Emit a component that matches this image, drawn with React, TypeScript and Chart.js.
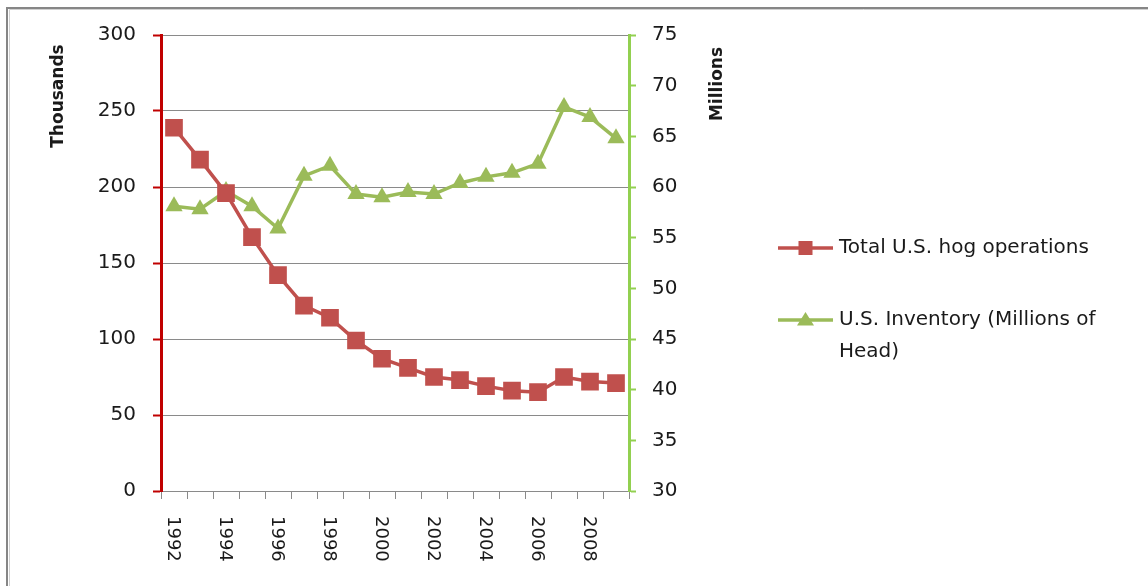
import React, { useEffect, useRef } from 'react';
import { Chart, registerables } from 'chart.js';

Chart.register(...registerables);

const years = ['1992', '1993', '1994', '1995', '1996', '1997', '1998', '1999', '2000', '2001', '2002', '2003', '2004', '2005', '2006', '2007', '2008', '2009'];
const hogOperations = [239, 218, 196, 167, 142, 122, 114, 99, 87, 81, 75, 73, 69, 66, 65, 75, 72, 71];
const inventory = [58.1, 57.8, 59.6, 58.1, 55.9, 61.1, 62.1, 59.3, 59.0, 59.5, 59.3, 60.4, 61.0, 61.4, 62.3, 67.9, 66.9, 64.8];

const leftMin = 0;
const leftMax = 300;
const leftStep = 50;
const rightMin = 30;
const rightMax = 75;
const rightStep = 5;

const leftTitle = 'Thousands';
const rightTitle = 'Millions';
const hogName = 'Total U.S. hog operations';
const inventoryName = 'U.S. Inventory (Millions of Head)';
const hogLegendLines = ['Total U.S. hog operations'];
const inventoryLegendLines = ['U.S. Inventory (Millions of', 'Head)'];

const RED = '#C0504D';
const GREEN = '#9BBB59';
const RED_AXIS = '#C00000';
const GREEN_AXIS = '#92D050';
const GRID = '#8A8A8A';
const TEXT = '#1a1a1a';
const FONT = '"DejaVu Sans", "Liberation Sans", sans-serif';

const decorPlugin = {
  id: 'decor',
  beforeDraw(chart: any) {
    const ctx = chart.ctx;
    ctx.save();
    ctx.fillStyle = '#ffffff';
    ctx.fillRect(0, 0, chart.width, chart.height);
    ctx.strokeStyle = '#868686';
    ctx.lineWidth = 2;
    ctx.beginPath();
    ctx.moveTo(7, chart.height);
    ctx.lineTo(7, 8);
    ctx.lineTo(chart.width, 8);
    ctx.stroke();
    ctx.strokeStyle = '#d0d0d0';
    ctx.lineWidth = 1;
    ctx.beginPath();
    ctx.moveTo(9.5, chart.height);
    ctx.lineTo(9.5, 9.5);
    ctx.lineTo(chart.width, 9.5);
    ctx.stroke();
    ctx.restore();
  },
  afterDraw(chart: any) {
    const ctx = chart.ctx;
    const xs = chart.scales.x;
    ctx.save();
    ctx.fillStyle = TEXT;
    ctx.font = `18px ${FONT}`;
    ctx.textAlign = 'left';
    ctx.textBaseline = 'middle';
    years.forEach((label, i) => {
      if (i % 2 !== 0) return;
      const px = xs.getPixelForValue(i);
      ctx.save();
      ctx.translate(px - 1, xs.top + 25);
      ctx.rotate(Math.PI / 2);
      ctx.fillText(label, 0, 0);
      ctx.restore();
    });

    // axis titles
    ctx.font = `bold 17px ${FONT}`;
    ctx.textAlign = 'center';
    ctx.textBaseline = 'middle';
    ctx.save();
    ctx.translate(59, 96);
    ctx.rotate(-Math.PI / 2);
    ctx.fillText(leftTitle, 0, 0);
    ctx.restore();
    ctx.save();
    ctx.translate(718, 84);
    ctx.rotate(-Math.PI / 2);
    ctx.fillText(rightTitle, 0, 0);
    ctx.restore();

    // legend
    const lx0 = 778;
    const lx1 = 833;
    const mx = (lx0 + lx1) / 2;
    const textX = 839;
    ctx.lineWidth = 3.5;
    // entry 1
    let y = 248;
    ctx.strokeStyle = RED;
    ctx.beginPath();
    ctx.moveTo(lx0, y);
    ctx.lineTo(lx1, y);
    ctx.stroke();
    ctx.fillStyle = RED;
    ctx.fillRect(mx - 7, y - 7, 14, 14);
    ctx.fillStyle = TEXT;
    ctx.font = `20px ${FONT}`;
    ctx.textAlign = 'left';
    ctx.textBaseline = 'middle';
    hogLegendLines.forEach((t, k) => ctx.fillText(t, textX, y + k * 32));
    // entry 2
    y = 320;
    ctx.strokeStyle = GREEN;
    ctx.beginPath();
    ctx.moveTo(lx0, y);
    ctx.lineTo(lx1, y);
    ctx.stroke();
    ctx.fillStyle = GREEN;
    ctx.beginPath();
    ctx.moveTo(mx, y - 8);
    ctx.lineTo(mx + 8.5, y + 5.5);
    ctx.lineTo(mx - 8.5, y + 5.5);
    ctx.closePath();
    ctx.fill();
    ctx.fillStyle = TEXT;
    inventoryLegendLines.forEach((t, k) => ctx.fillText(t, textX, y + k * 32));
    ctx.restore();
  },
};

export default function App() {
  const canvasRef = useRef<HTMLCanvasElement | null>(null);

  useEffect(() => {
    document.body.style.margin = '0';
    const canvas = canvasRef.current;
    if (!canvas) return;
    const chart = new Chart(canvas, {
      type: 'line',
      data: {
        labels: years,
        datasets: [
          {
            label: hogName,
            data: hogOperations,
            yAxisID: 'y',
            borderColor: RED,
            backgroundColor: RED,
            borderWidth: 3.5,
            pointStyle: 'rect',
            pointRadius: 12.5,
            pointBackgroundColor: RED,
            pointBorderColor: RED,
            pointBorderWidth: 0,
            tension: 0,
          },
          {
            label: inventoryName,
            data: inventory,
            yAxisID: 'y2',
            borderColor: GREEN,
            backgroundColor: GREEN,
            borderWidth: 3.5,
            pointStyle: 'triangle',
            pointRadius: 10,
            pointBackgroundColor: GREEN,
            pointBorderColor: GREEN,
            pointBorderWidth: 0,
            tension: 0,
          },
        ],
      },
      options: {
        animation: false,
        responsive: false,
        devicePixelRatio: 1,
        layout: { padding: { top: 35, left: 0, right: 0, bottom: 0 } },
        plugins: {
          legend: { display: false },
          tooltip: { enabled: false },
        },
        scales: {
          x: {
            type: 'category',
            offset: true,
            grid: {
              offset: true,
              drawOnChartArea: false,
              color: GRID,
              tickLength: 8,
              lineWidth: 1,
            },
            border: { color: GRID, width: 1 },
            ticks: {
              autoSkip: false,
              maxRotation: 0,
              minRotation: 0,
              callback: () => '',
            },
            afterFit: (s: any) => {
              s.height = 95;
            },
          },
          y: {
            position: 'left',
            min: leftMin,
            max: leftMax,
            ticks: {
              stepSize: leftStep,
              padding: 17,
              color: TEXT,
              font: { family: FONT, size: 20 },
            },
            grid: {
              color: GRID,
              lineWidth: 1,
              tickColor: RED_AXIS,
              tickLength: 8,
              tickWidth: 2,
            },
            border: { color: RED_AXIS, width: 3 },
            afterFit: (s: any) => {
              s.width = 161;
            },
          },
          y2: {
            position: 'right',
            min: rightMin,
            max: rightMax,
            ticks: {
              stepSize: rightStep,
              padding: 16,
              color: TEXT,
              font: { family: FONT, size: 20 },
            },
            grid: {
              drawOnChartArea: false,
              tickColor: GREEN_AXIS,
              tickLength: 7,
              tickWidth: 2,
            },
            border: { color: GREEN_AXIS, width: 3 },
            afterFit: (s: any) => {
              s.width = 1148 - 629;
            },
          },
        },
      },
      plugins: [decorPlugin],
    });
    return () => chart.destroy();
  }, []);

  return (
    <div style={{ position: 'fixed', left: 0, top: 0, width: 1148, height: 586, background: '#fff' }}>
      <canvas ref={canvasRef} width={1148} height={586} style={{ width: 1148, height: 586, display: 'block' }} />
    </div>
  );
}
